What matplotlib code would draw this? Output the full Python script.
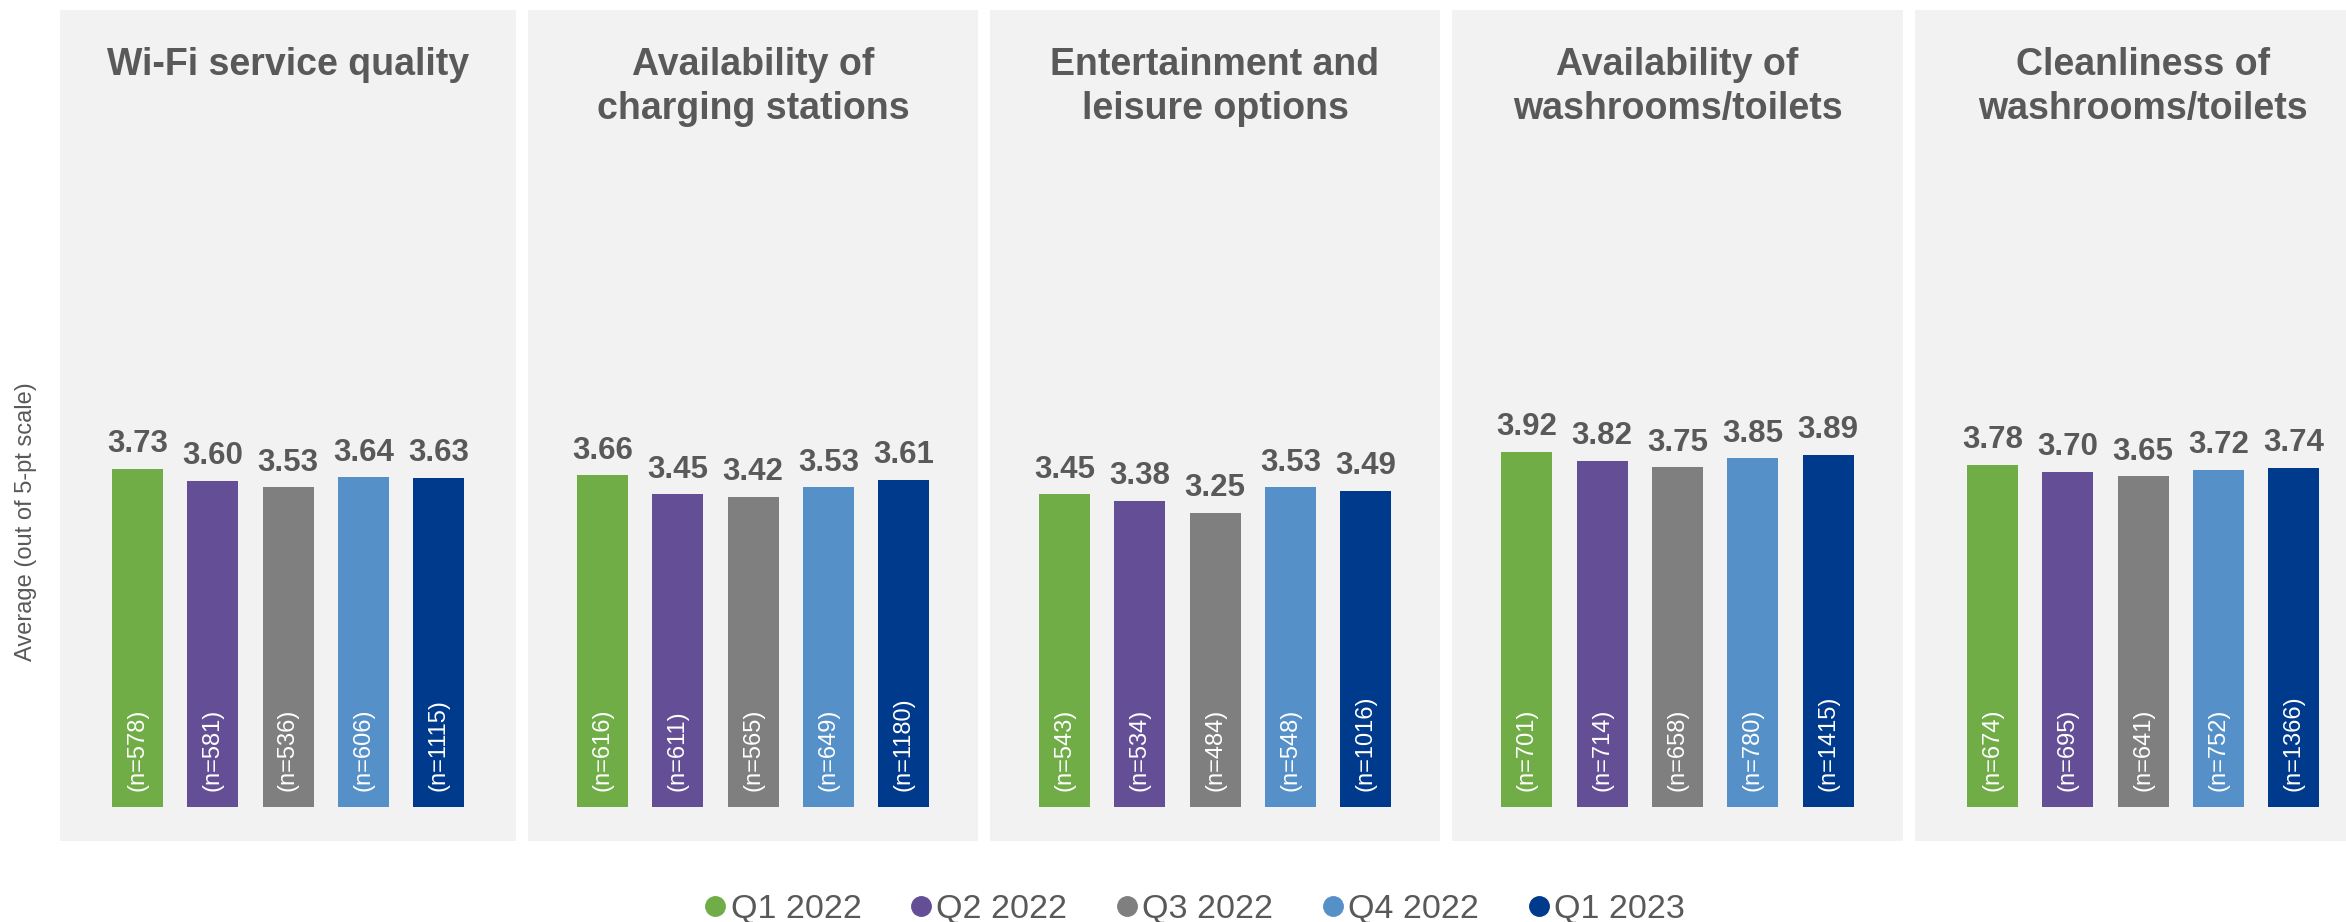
import matplotlib
matplotlib.use("Agg")
import matplotlib.pyplot as plt
from matplotlib.lines import Line2D

# ---------------- data ----------------
quarters = ["Q1 2022", "Q2 2022", "Q3 2022", "Q4 2022", "Q1 2023"]
titles = [
    ["Wi-Fi service quality"],
    ["Availability of", "charging stations"],
    ["Entertainment and", "leisure options"],
    ["Availability of", "washrooms/toilets"],
    ["Cleanliness of", "washrooms/toilets"],
]
wifi_vals = [3.73, 3.60, 3.53, 3.64, 3.63]
wifi_n = [578, 581, 536, 606, 1115]
charging_vals = [3.66, 3.45, 3.42, 3.53, 3.61]
charging_n = [616, 611, 565, 649, 1180]
entertainment_vals = [3.45, 3.38, 3.25, 3.53, 3.49]
entertainment_n = [543, 534, 484, 548, 1016]
wash_avail_vals = [3.92, 3.82, 3.75, 3.85, 3.89]
wash_avail_n = [701, 714, 658, 780, 1415]
wash_clean_vals = [3.78, 3.70, 3.65, 3.72, 3.74]
wash_clean_n = [674, 695, 641, 752, 1366]

values = [wifi_vals, charging_vals, entertainment_vals, wash_avail_vals, wash_clean_vals]
counts = [wifi_n, charging_n, entertainment_n, wash_avail_n, wash_clean_n]

colors = ["#70AD47", "#644E96", "#7F7F7F", "#5591C8", "#003A8C"]
ylabel = "Average (out of 5-pt scale)"

# ---------------- layout ----------------
W, H = 2346, 922
DPI = 100
TXT = "#595959"
PANEL_BG = "#F2F2F2"
FONT = "Liberation Sans"

panel_left = [60, 528, 990, 1452, 1915]
panel_width = [456, 450, 450, 451, 456]
panel_top, panel_bottom = 10, 841
zero_px = 807          # pixel row of value 0
px_per_unit = 90.6
bar_pitch = 75.3
bar_w_px = 51

fig = plt.figure(figsize=(W / DPI, H / DPI), dpi=DPI)
fig.patch.set_facecolor("white")

ylo = -(panel_bottom - zero_px) / px_per_unit
yhi = (zero_px - panel_top) / px_per_unit

for i in range(5):
    L = panel_left[i]
    w = panel_width[i]
    ax = fig.add_axes([L / W, (H - panel_bottom) / H, w / W, (panel_bottom - panel_top) / H])
    ax.set_facecolor(PANEL_BG)
    for s in ax.spines.values():
        s.set_visible(False)
    ax.set_xticks([])
    ax.set_yticks([])
    half = (w / 2) / bar_pitch
    ax.set_xlim(2 - half, 2 + half)
    ax.set_ylim(ylo, yhi)

    xs = list(range(len(quarters)))
    ax.bar(xs, values[i], width=bar_w_px / bar_pitch, color=colors, zorder=2)
    for x, v, n in zip(xs, values[i], counts[i]):
        ax.annotate(f"{v:.2f}", (x, v), xytext=(0, 12), textcoords="offset points",
                    ha="center", va="baseline", fontsize=22.5, fontweight="bold",
                    color=TXT, family=FONT)
        ax.annotate(f"(n={n})", (x, 0), xytext=(0, 11.5), textcoords="offset points",
                    ha="center", va="bottom", rotation=90, fontsize=17,
                    color="white", family=FONT)

    # title lines (baselines at 75 and 119 px from figure top)
    for j, line in enumerate(titles[i]):
        ybase = 75 + j * 44
        fig.text((L + w / 2) / W, (H - ybase) / H, line, ha="center", va="baseline",
                 fontsize=27, fontweight="bold", color=TXT, family=FONT)

fig.text(26 / W, (H - 522) / H, ylabel, rotation=90, ha="center", va="center",
         fontsize=17, color=TXT, family=FONT)

handles = [Line2D([0], [0], marker="o", linestyle="none", markersize=14,
                  markerfacecolor=c, markeredgecolor=c) for c in colors]
leg = fig.legend(handles, quarters, loc="center", bbox_to_anchor=(1195 / W, (H - 909) / H),
                 ncol=5, frameon=False, handlelength=0.6, handletextpad=0.15,
                 columnspacing=1.45, prop={"family": FONT, "size": 24.5},
                 borderpad=0, borderaxespad=0)
for t in leg.get_texts():
    t.set_color(TXT)

fig.savefig("out.png", dpi=DPI, facecolor="white")
